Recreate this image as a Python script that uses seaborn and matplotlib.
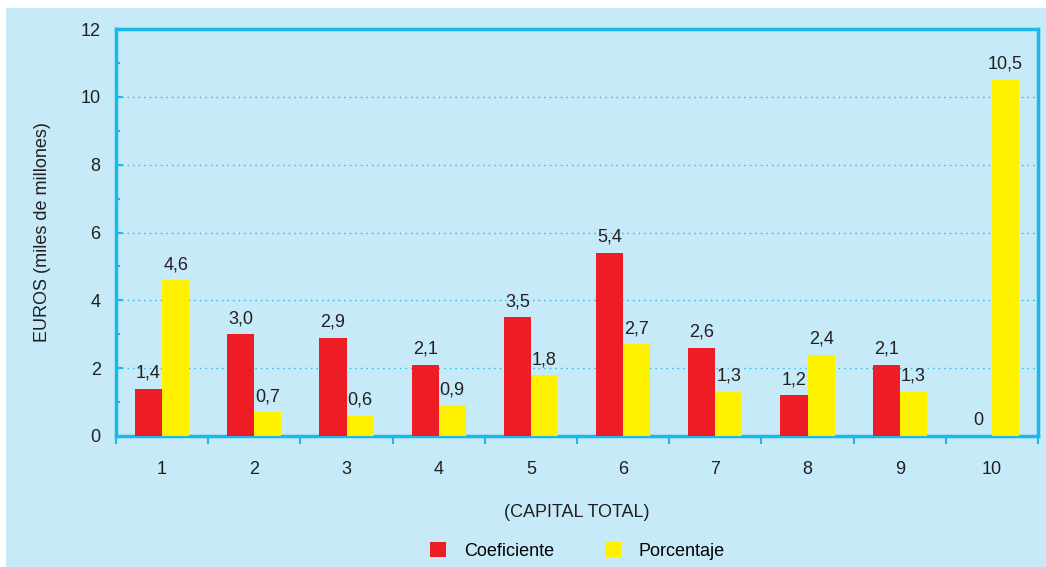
import pandas as pd
import numpy as np
import matplotlib.pyplot as plt
import seaborn as sns
from matplotlib.patches import Rectangle

categories = ["1", "2", "3", "4", "5", "6", "7", "8", "9", "10"]
coeficiente = [1.4, 3.0, 2.9, 2.1, 3.5, 5.4, 2.6, 1.2, 2.1, 0]
porcentaje = [4.6, 0.7, 0.6, 0.9, 1.8, 2.7, 1.3, 2.4, 1.3, 10.5]

df = pd.DataFrame({
    "Capital": categories * 2,
    "Valor": coeficiente + porcentaje,
    "Serie": ["Coeficiente"] * 10 + ["Porcentaje"] * 10,
})

bg = "#c7eaf8"
cyan = "#1bb8ea"
txt = "#231f20"

plt.rcParams["font.family"] = ["Liberation Sans", "DejaVu Sans"]

fig = plt.figure(figsize=(10.46, 5.67), dpi=100, facecolor="white")
fig.patches.append(Rectangle((6 / 1046, 0), 1, 1 - 8 / 567, transform=fig.transFigure,
                             facecolor=bg, edgecolor="none", zorder=-10))
ax = fig.add_axes([116 / 1046, 1 - 436 / 567, (1038 - 116) / 1046, (436 - 29) / 567])
ax.set_facecolor(bg)

sns.barplot(data=df, x="Capital", y="Valor", hue="Serie", order=categories,
            hue_order=["Coeficiente", "Porcentaje"],
            palette={"Coeficiente": "#ee1c25", "Porcentaje": "#fff200"},
            width=0.59, saturation=1, ax=ax, zorder=3)

for cont in ax.containers:
    labs = [f"{v:.1f}".replace(".", ",") if v != 0 else "0" for v in cont.datavalues]
    ax.bar_label(cont, labels=labs, padding=5, fontsize=13, color=txt)

ax.set_xlim(-0.5, 9.5)
ax.set_ylim(0, 12)
ax.set_yticks(range(0, 13, 2))
ax.set_yticks(range(1, 12, 2), minor=True)
ax.set_xticks(np.arange(-0.5, 10, 1), minor=True)
ax.tick_params(axis="x", which="major", length=0, pad=18, labelsize=13, labelcolor=txt)
ax.tick_params(axis="x", which="minor", length=6, direction="out", color=cyan, width=1.5)
ax.tick_params(axis="y", which="major", length=5, direction="in", color=cyan, width=1.5,
               pad=11, labelsize=13, labelcolor=txt)
ax.tick_params(axis="y", which="minor", length=3, direction="in", color=cyan, width=1.5)

ax.yaxis.grid(True, linestyle=(0, (1, 3)), color=cyan, linewidth=1)
ax.set_axisbelow(True)
for s in ax.spines.values():
    s.set_color(cyan)
    s.set_linewidth(2.5)

ax.set_xlabel("(CAPITAL TOTAL)", fontsize=13, color=txt)
ax.xaxis.set_label_coords(0.5, -0.166)
ax.set_ylabel("EUROS (miles de millones)", fontsize=13, color=txt)
ax.yaxis.set_label_coords(-0.071, 0.5)

ax.legend(loc="center", bbox_to_anchor=(0.552, 0.028), bbox_transform=fig.transFigure,
          ncol=2, frameon=False, fontsize=13, handlelength=0.9, handleheight=0.9,
          columnspacing=2.8, handletextpad=1)

fig.savefig("out.png", dpi=100, facecolor=fig.get_facecolor())
